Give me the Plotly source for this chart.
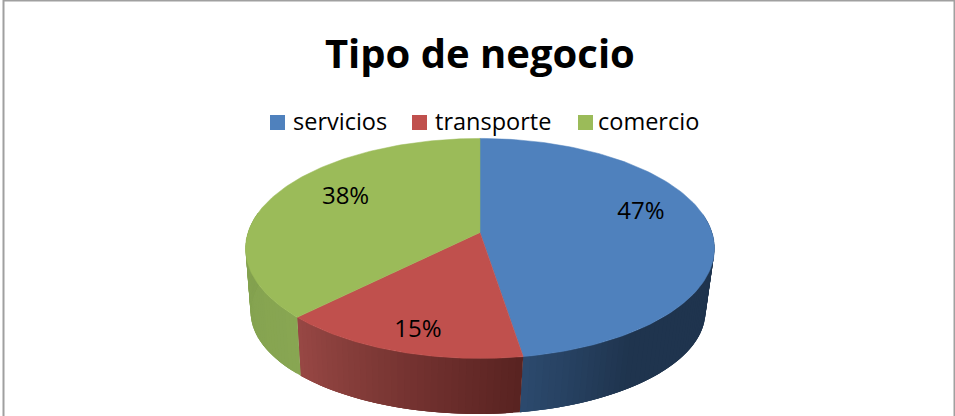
import numpy as np
import plotly.graph_objects as go

# --- data -------------------------------------------------------------
title = "Tipo de negocio"
categories = ["servicios", "transporte", "comercio"]
values = [47.45, 15.05, 37.5]

# --- style ------------------------------------------------------------
top_colors = ["#4F81BD", "#C0504D", "#9BBB59"]
# side wall colour at the start and end of each slice, and the share of the
# slice (counted back from its end) over which the shade changes
side_colors = [
    ((31, 52, 78), (44, 74, 110), 0.15),
    ((88, 34, 32), (152, 72, 69), 1.0),
    ((136, 166, 82), (122, 152, 74), 1.0),
]
W, H = 955, 416
K = 0.145                                   # perspective strength
TOP = dict(cx=480, cy=232.5, r=232, s=107.7)  # upper rim of the disc
BOT = dict(cx=478, cy=297, r=225, s=100.0)  # lower rim of the disc
SIDE_FROM, SIDE_TO = 80.0, 281.0            # visible part of the wall
label_f = [0.68, 0.80, 0.70]
label_nudge = [(5, -14), (2, 6), (10, -7)]
legend_x = [277.5, 419.5, 585.5]
legend_text_x = [293, 435, 598]
legend_y = 122.5
legend_text_y = 124


def project(deg, rim, f=1.0):
    t = np.radians(deg)
    u, v = np.sin(t) * f, -np.cos(t) * f
    d = 1 - K * v
    return rim["cx"] + rim["r"] * u / d, rim["cy"] + rim["s"] * v / d


total = sum(values)
edges = np.concatenate([[0], np.cumsum(values)]) / total * 360

fig = go.Figure()

# side wall, drawn as thin shaded strips that overlap the next one
for i in range(len(values)):
    a0, a1 = max(edges[i], SIDE_FROM), min(edges[i + 1], SIDE_TO)
    n = max(int((a1 - a0) / 1.5), 1)
    steps = np.linspace(a0, a1, n + 1)
    c0, c1, share = side_colors[i]
    for j in range(n):
        p = (steps[j] + steps[j + 1]) / 2
        w = (p - edges[i]) / (edges[i + 1] - edges[i])
        w = max(1 - (1 - w) / share, 0)
        c = [c0[k] + (c1[k] - c0[k]) * w for k in range(3)]
        col = f"rgb({c[0]:.0f},{c[1]:.0f},{c[2]:.0f})"
        seg = np.linspace(steps[j], min(steps[j + 1] + 3, a1), 6)
        tx, ty = project(seg, TOP)
        bx, by = project(seg[::-1], BOT)
        fig.add_trace(go.Scatter(
            x=np.concatenate([tx, bx]), y=np.concatenate([ty, by]),
            mode="lines", fill="toself", fillcolor=col,
            line=dict(width=0), showlegend=False, hoverinfo="skip"))

# top face of each slice
for i, name in enumerate(categories):
    seg = np.linspace(edges[i], edges[i + 1], 120)
    x, y = project(seg, TOP)
    fig.add_trace(go.Scatter(
        x=np.concatenate([[TOP["cx"]], x, [TOP["cx"]]]),
        y=np.concatenate([[TOP["cy"]], y, [TOP["cy"]]]),
        mode="lines", fill="toself", fillcolor=top_colors[i],
        line=dict(width=0.5, color=top_colors[i]),
        showlegend=False, hoverinfo="skip"))

# percentage labels
lx, ly, lt = [], [], []
for i in range(len(values)):
    x, y = project((edges[i] + edges[i + 1]) / 2, TOP, label_f[i])
    lx.append(x + label_nudge[i][0])
    ly.append(y + label_nudge[i][1])
    lt.append(f"{round(values[i] / total * 100)}%")
fig.add_trace(go.Scatter(
    x=lx, y=ly, text=lt, mode="text", textposition="middle center",
    textfont=dict(family="Open Sans", size=24, color="#000000"),
    showlegend=False, hoverinfo="skip"))

# legend entries
for i, name in enumerate(categories):
    fig.add_trace(go.Scatter(
        x=[legend_x[i]], y=[legend_y], mode="markers", name=name,
        marker=dict(symbol="square", size=15, color=top_colors[i]),
        showlegend=False, hoverinfo="skip"))
    fig.add_trace(go.Scatter(
        x=[legend_text_x[i]], y=[legend_text_y], mode="text", name=name,
        text=[name], textposition="middle right",
        textfont=dict(family="Open Sans", size=23.5, color="#000000"),
        showlegend=False, hoverinfo="skip"))

fig.update_layout(
    width=W, height=H,
    margin=dict(l=0, r=0, t=0, b=0),
    paper_bgcolor="white", plot_bgcolor="white",
    title=dict(text=f"<b>{title}</b>", x=0.5025, xanchor="center",
               y=0.87, yanchor="middle",
               font=dict(family="Open Sans", size=40, color="#000000")),
    xaxis=dict(range=[0, W], visible=False, fixedrange=True),
    yaxis=dict(range=[H, 0], visible=False, fixedrange=True),
    shapes=[dict(type="rect", xref="x", yref="y", x0=3.5, y0=0.5, x1=954.5, y1=430,
                 line=dict(color="#A0A0A0", width=2), fillcolor="rgba(0,0,0,0)")],
)
fig.write_html("out.html", config={"displayModeBar": False},
               post_script="document.body.style.margin='0';")
